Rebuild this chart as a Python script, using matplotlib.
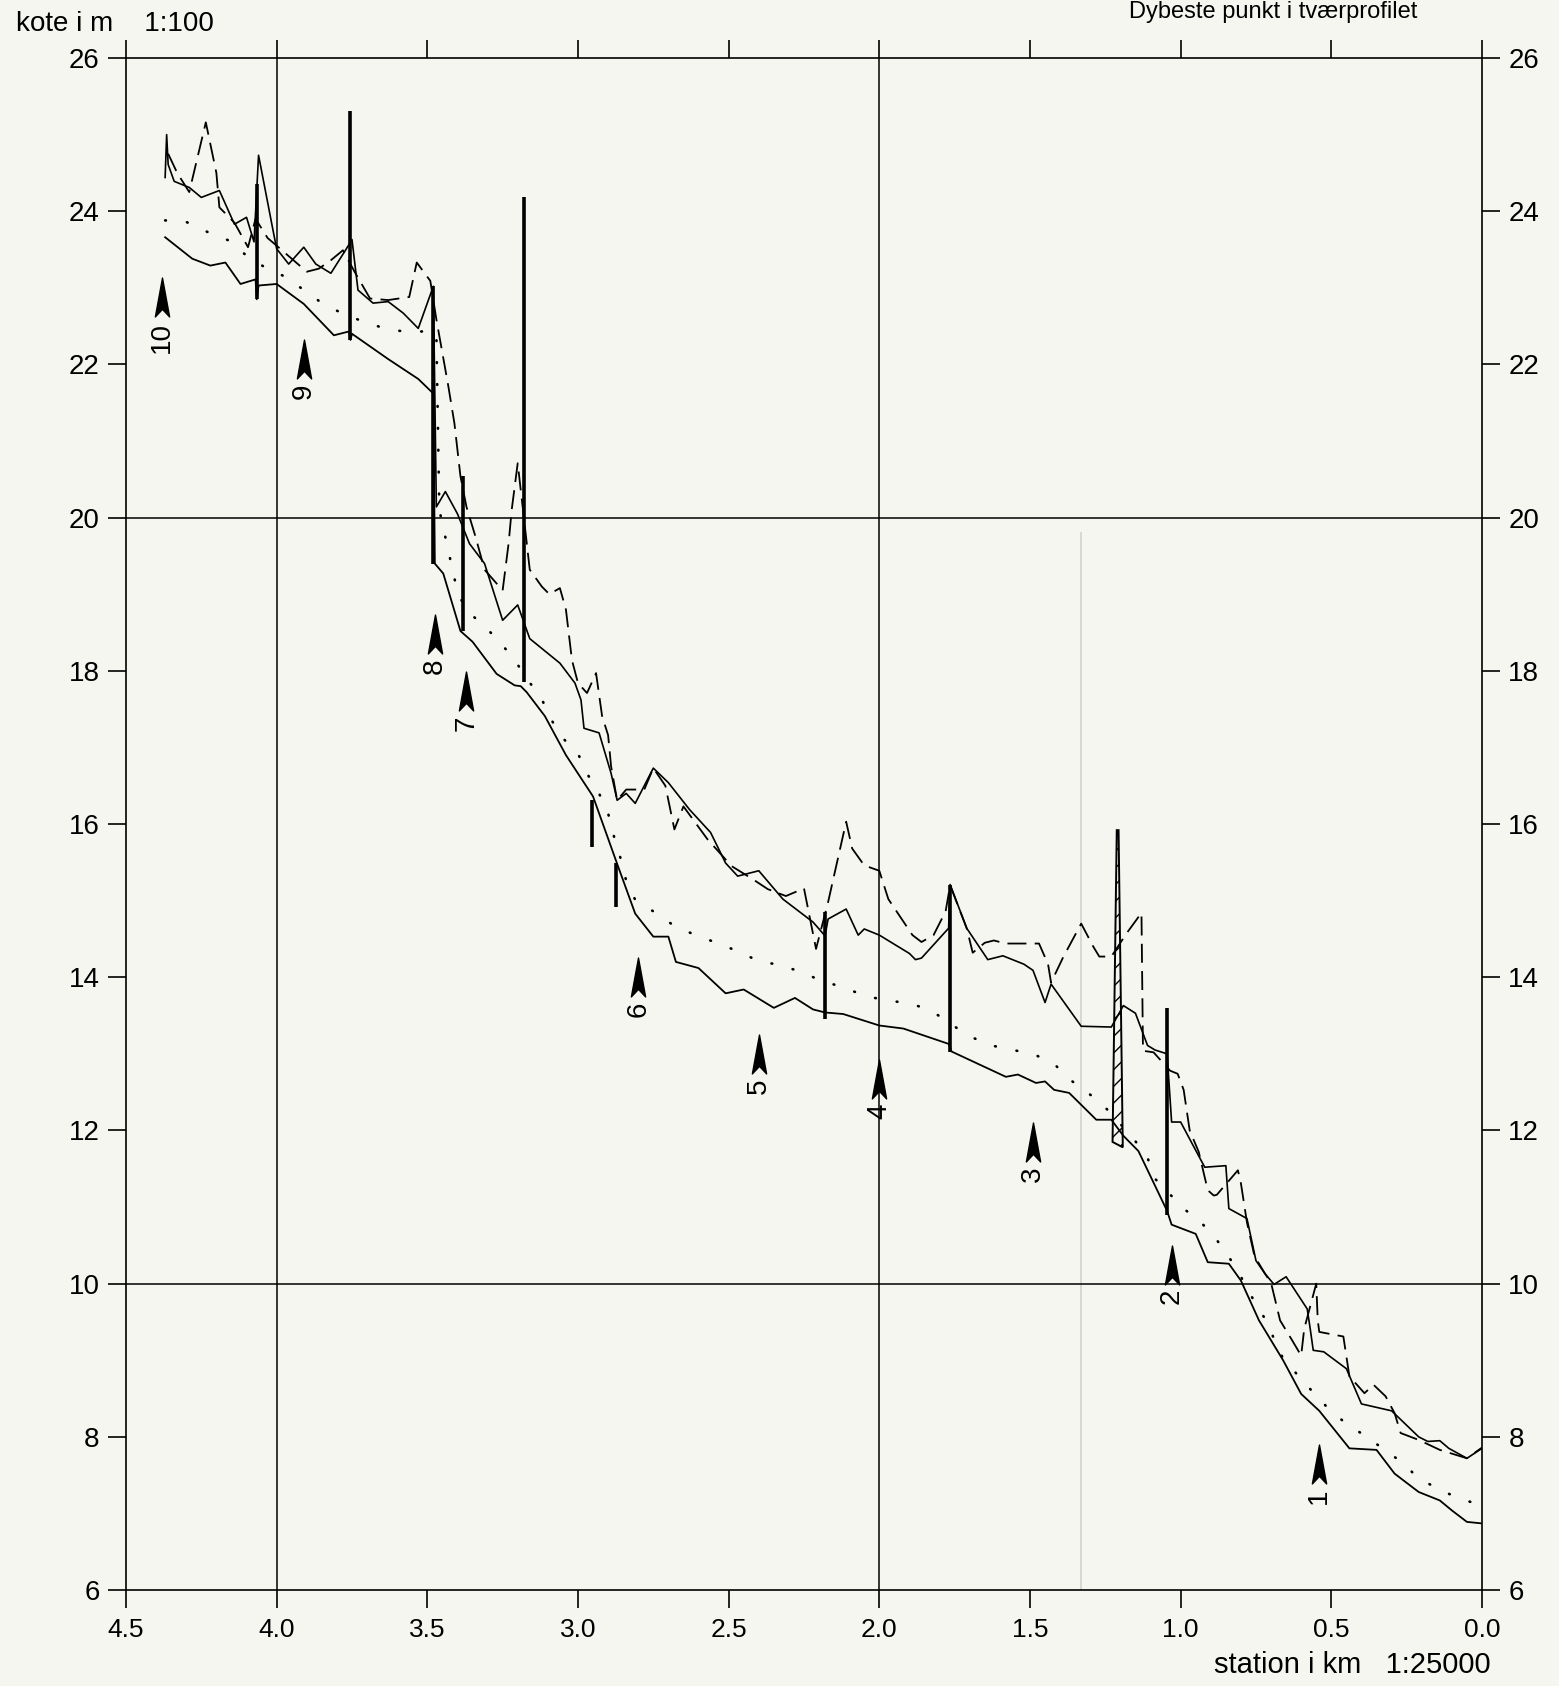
import numpy as np
import matplotlib
matplotlib.use('Agg')
import matplotlib.pyplot as plt
from matplotlib import font_manager
from matplotlib.path import Path
from matplotlib.patches import Polygon

names = {f.name for f in font_manager.fontManager.ttflist}
FONT = 'Liberation Sans Narrow' if 'Liberation Sans Narrow' in names else 'Liberation Sans'
plt.rcParams['font.family'] = [FONT, 'DejaVu Sans']
plt.rcParams['hatch.linewidth'] = 1.0

# ---- data (station km, kote m) ----
bed_x = [4.37, 4.28, 4.22, 4.17, 4.12, 4.07, 4.066, 4.06, 4.00, 3.91, 3.81, 3.76, 3.755, 3.75,
         3.63, 3.53, 3.48, 3.475, 3.447, 3.39, 3.35, 3.27, 3.21, 3.19, 3.17, 3.11, 3.04, 2.95,
         2.87, 2.81, 2.75, 2.70, 2.675, 2.60, 2.51, 2.45, 2.35, 2.28, 2.22, 2.18, 2.12, 2.00,
         1.92, 1.77, 1.76, 1.58, 1.54, 1.48, 1.45, 1.42, 1.37, 1.28, 1.23, 1.19, 1.14, 1.045,
         1.03, 0.95, 0.91, 0.84, 0.80, 0.74, 0.66, 0.60, 0.54, 0.44, 0.35, 0.29, 0.21, 0.14,
         0.10, 0.05, 0.00]
bed_y = [23.66, 23.38, 23.29, 23.33, 23.05, 23.11, 22.85, 23.03, 23.05, 22.79, 22.38, 22.43, 22.32, 22.40,
         22.07, 21.81, 21.62, 19.40, 19.27, 18.52, 18.38, 17.96, 17.81, 17.80, 17.72, 17.41, 16.90, 16.36,
         15.48, 14.83, 14.53, 14.53, 14.20, 14.12, 13.79, 13.84, 13.60, 13.73, 13.58, 13.54, 13.52, 13.37,
         13.33, 13.13, 13.03, 12.70, 12.73, 12.62, 12.64, 12.53, 12.49, 12.14, 12.14, 11.93, 11.73, 10.95,
         10.77, 10.65, 10.28, 10.26, 10.04, 9.52, 9.00, 8.56, 8.34, 7.85, 7.83, 7.52, 7.28, 7.17,
         7.04, 6.89, 6.87]

surf_x = [4.37, 4.365, 4.36, 4.34, 4.29, 4.25, 4.19, 4.14, 4.10, 4.075, 4.06, 4.01, 4.00, 3.96,
          3.91, 3.87, 3.82, 3.77, 3.75, 3.73, 3.68, 3.63, 3.58, 3.53, 3.48, 3.47, 3.44, 3.40,
          3.36, 3.31, 3.25, 3.20, 3.16, 3.06, 3.01, 2.99, 2.98, 2.93, 2.89, 2.87, 2.84, 2.81,
          2.75, 2.70, 2.63, 2.56, 2.51, 2.47, 2.40, 2.32, 2.22, 2.18, 2.17, 2.11, 2.07, 2.05,
          2.00, 1.90, 1.88, 1.86, 1.77, 1.765, 1.71, 1.64, 1.59, 1.52, 1.49, 1.45, 1.43, 1.33,
          1.23, 1.19, 1.15, 1.11, 1.085, 1.045, 1.03, 1.00, 0.95, 0.92, 0.85, 0.84, 0.78, 0.75,
          0.72, 0.69, 0.65, 0.58, 0.57, 0.56, 0.525, 0.45, 0.40, 0.30, 0.21, 0.18, 0.14, 0.11,
          0.05, 0.00]
surf_y = [24.44, 25.00, 24.61, 24.39, 24.31, 24.18, 24.27, 23.83, 23.92, 23.60, 24.73, 23.71, 23.51, 23.31,
          23.53, 23.31, 23.19, 23.50, 23.63, 22.97, 22.80, 22.82, 22.67, 22.47, 23.02, 20.14, 20.34, 20.05,
          19.66, 19.40, 18.66, 18.86, 18.42, 18.10, 17.84, 17.62, 17.25, 17.19, 16.66, 16.31, 16.40, 16.27,
          16.73, 16.54, 16.19, 15.89, 15.49, 15.32, 15.39, 15.02, 14.72, 14.54, 14.76, 14.89, 14.55, 14.63,
          14.55, 14.31, 14.23, 14.25, 14.64, 15.21, 14.64, 14.23, 14.28, 14.17, 14.09, 13.67, 13.91, 13.36,
          13.35, 13.63, 13.53, 13.11, 13.05, 13.00, 12.11, 12.11, 11.74, 11.52, 11.54, 10.98, 10.85, 10.30,
          10.13, 9.99, 10.09, 9.67, 9.41, 9.13, 9.11, 8.89, 8.43, 8.34, 8.00, 7.94, 7.95, 7.85,
          7.72, 7.85]

dash_x = [4.36, 4.33, 4.29, 4.235, 4.20, 4.19, 4.14, 4.095, 4.07, 4.03, 4.00, 3.90, 3.86, 3.82,
          3.78, 3.74, 3.69, 3.63, 3.56, 3.535, 3.49, 3.47, 3.43, 3.41, 3.39, 3.37, 3.34, 3.31,
          3.25, 3.23, 3.22, 3.20, 3.16, 3.12, 3.095, 3.06, 3.04, 3.02, 3.00, 2.97, 2.94, 2.92,
          2.90, 2.89, 2.87, 2.84, 2.78, 2.75, 2.71, 2.68, 2.65, 2.57, 2.49, 2.42, 2.37, 2.31,
          2.25, 2.21, 2.17, 2.11, 2.09, 2.05, 2.00, 1.97, 1.89, 1.86, 1.82, 1.78, 1.765, 1.71,
          1.69, 1.65, 1.62, 1.58, 1.47, 1.44, 1.43, 1.39, 1.33, 1.29, 1.27, 1.23, 1.18, 1.13,
          1.125, 1.09, 1.035, 1.01, 0.99, 0.97, 0.94, 0.91, 0.89, 0.88, 0.81, 0.80, 0.78, 0.755,
          0.72, 0.70, 0.67, 0.63, 0.60, 0.59, 0.55, 0.545, 0.54, 0.46, 0.44, 0.39, 0.36, 0.32,
          0.29, 0.27, 0.21, 0.14, 0.05, 0.00]
dash_y = [24.75, 24.50, 24.25, 25.16, 24.50, 24.05, 23.85, 23.53, 23.90, 23.65, 23.55, 23.21, 23.25, 23.36,
          23.49, 23.20, 22.86, 22.84, 22.88, 23.33, 23.09, 22.59, 21.71, 21.23, 20.54, 20.14, 19.75, 19.32,
          19.05, 19.67, 20.10, 20.71, 19.32, 19.10, 19.00, 19.08, 18.80, 18.14, 17.84, 17.71, 17.97, 17.41,
          17.16, 16.75, 16.31, 16.45, 16.45, 16.73, 16.50, 15.93, 16.23, 15.80, 15.45, 15.28, 15.15, 15.06,
          15.16, 14.37, 14.98, 16.03, 15.68, 15.46, 15.39, 15.02, 14.55, 14.46, 14.55, 14.86, 15.20, 14.64,
          14.32, 14.45, 14.48, 14.44, 14.44, 14.17, 13.93, 14.26, 14.70, 14.40, 14.27, 14.27, 14.57, 14.84,
          13.04, 13.02, 12.78, 12.74, 12.53, 12.00, 11.72, 11.22, 11.15, 11.16, 11.48, 11.31, 10.80, 10.36,
          10.13, 10.01, 9.52, 9.26, 9.06, 9.41, 10.00, 9.52, 9.37, 9.31, 8.79, 8.57, 8.68, 8.53,
          8.31, 8.05, 7.96, 7.83, 7.72, 7.86]

mean_x = [4.37, 4.30, 4.23, 4.16, 4.10, 4.04, 3.98, 3.92, 3.86, 3.79, 3.72, 3.65, 3.58, 3.51,
          3.47, 3.46, 3.40, 3.37, 3.31, 3.26, 3.21, 3.17, 3.12, 3.09, 3.05, 3.00, 2.97, 2.93,
          2.90, 2.88, 2.86, 2.84, 2.81, 2.75, 2.68, 2.61, 2.54, 2.47, 2.40, 2.33, 2.26, 2.19,
          2.12, 2.05, 1.98, 1.90, 1.83, 1.71, 1.64, 1.57, 1.49, 1.42, 1.37, 1.31, 1.25, 1.16,
          1.11, 1.09, 0.99, 0.93, 0.88, 0.84, 0.80, 0.76, 0.72, 0.69, 0.66, 0.61, 0.56, 0.51,
          0.45, 0.39, 0.33, 0.27, 0.21, 0.15, 0.09, 0.00]
mean_y = [23.88, 23.86, 23.73, 23.62, 23.42, 23.27, 23.16, 23.00, 22.83, 22.68, 22.57, 22.48, 22.43, 22.43,
          22.40, 20.10, 19.03, 18.79, 18.58, 18.38, 18.14, 17.90, 17.63, 17.37, 17.12, 16.92, 16.66, 16.40,
          16.14, 15.83, 15.57, 15.26, 15.01, 14.86, 14.67, 14.55, 14.45, 14.34, 14.21, 14.16, 14.07, 13.95,
          13.87, 13.76, 13.70, 13.66, 13.57, 13.25, 13.12, 13.06, 13.00, 12.87, 12.67, 12.50, 12.30, 11.91,
          11.65, 11.39, 10.98, 10.79, 10.57, 10.35, 10.09, 9.80, 9.54, 9.28, 9.02, 8.80, 8.58, 8.37,
          8.17, 8.02, 7.85, 7.68, 7.46, 7.33, 7.22, 7.10]

# structures drawn as vertical bars: station, bottom, top
bar_x = [4.065, 3.755, 3.48, 3.38, 3.18, 2.955, 2.875, 2.18, 1.765, 1.045]
bar_lo = [22.85, 22.32, 19.40, 18.52, 17.85, 15.70, 14.92, 13.45, 13.03, 10.90]
bar_hi = [24.35, 25.31, 23.03, 20.54, 24.18, 16.31, 15.49, 14.85, 15.20, 13.60]

# hatched structure near station 1.2
hatch_x = [1.226, 1.192, 1.206, 1.212]
hatch_y = [11.85, 11.78, 15.92, 15.92]

# numbered profile markers
mark_x = [0.54, 1.03, 1.49, 2.00, 2.40, 2.80, 3.37, 3.475, 3.91, 4.38]
mark_y = [7.65, 10.25, 11.85, 12.67, 13.00, 14.00, 17.74, 18.48, 22.07, 22.88]
mark_lbl = ['1', '2', '3', '4', '5', '6', '7', '8', '9', '10']

x_ticks = [4.5, 4.0, 3.5, 3.0, 2.5, 2.0, 1.5, 1.0, 0.5, 0.0]
y_ticks = [6, 8, 10, 12, 14, 16, 18, 20, 22, 24, 26]

paper = '#f6f6f1'
fig = plt.figure(figsize=(15.59, 16.86), dpi=100, facecolor=paper)
ax = fig.add_axes([0.0808, 0.0569, 0.8698, 0.9087], facecolor=paper)
ax.set_xlim(4.5, 0.0)
ax.set_ylim(6, 26)

# grid lines / paper fold
for gx in [4.0, 2.0]:
    ax.axvline(gx, color='k', lw=1.1, zorder=1)
for gy in [20, 10]:
    ax.axhline(gy, color='k', lw=1.1, zorder=1)
ax.plot([1.33, 1.33], [6, 19.8], color='#d2d2cc', lw=1.2, zorder=0)

ax.plot(bed_x, bed_y, color='k', lw=1.3, zorder=3)
ax.plot(surf_x, surf_y, color='k', lw=1.2, zorder=3)
ax.plot(dash_x, dash_y, color='k', lw=1.3, ls=(0, (10.5, 4.6)), zorder=3)
ax.plot(mean_x, mean_y, color='k', lw=1.9, ls=(0, (0.3, 8.0)),
        dash_capstyle='round', zorder=3)

ax.vlines(bar_x, bar_lo, bar_hi, colors='k', lw=2.6, zorder=4)
ax.add_patch(Polygon(list(zip(hatch_x, hatch_y)), closed=True, facecolor='none',
                     edgecolor='k', lw=1.4, hatch='//', zorder=4))

arrow = Path([(0, 0.9), (0.33, -0.9), (0, -0.55), (-0.33, -0.9), (0, 0.9)],
             [Path.MOVETO, Path.LINETO, Path.LINETO, Path.LINETO, Path.CLOSEPOLY])
ax.plot(mark_x, mark_y, ls='none', marker=arrow, ms=28, color='k', zorder=5)
for mx, my, ml in zip(mark_x, mark_y, mark_lbl):
    ax.text(mx, my - 0.32, ml, rotation=90, ha='center', va='top', fontsize=20,
            family=['Liberation Sans', 'DejaVu Sans'], zorder=5)

# axes styling
for s in ax.spines.values():
    s.set_linewidth(1.2)
ax.set_xticks(x_ticks)
ax.set_xticklabels([f'{v:.1f}' for v in x_ticks])
ax.set_yticks(y_ticks)
ax.set_yticklabels([str(v) for v in y_ticks])
ax.tick_params(axis='both', direction='out', length=13, width=1.2,
               top=True, right=True, labelright=True, labeltop=False)
ax.tick_params(axis='x', pad=7, labelsize=19)
ax.tick_params(axis='y', pad=6, labelsize=20)
for lbl in ax.get_yticklabels(which='both') + ax.yaxis.get_ticklabels(minor=False):
    lbl.set_family(['Liberation Sans', 'DejaVu Sans'])
for t in ax.yaxis.get_major_ticks():
    t.label2.set_family(['Liberation Sans', 'DejaVu Sans'])
    t.label1.set_family(['Liberation Sans', 'DejaVu Sans'])

fig.text(0.010, 0.986, 'kote i m    1:100', fontsize=20, va='center', ha='left')
fig.text(0.956, 0.0125, 'station i km   1:25000', fontsize=21, va='center', ha='right')
fig.text(0.8166, 0.9995, 'Dybeste punkt i tværprofilet', fontsize=17, va='top', ha='center')

fig.savefig('out.png', dpi=100, facecolor=paper)
